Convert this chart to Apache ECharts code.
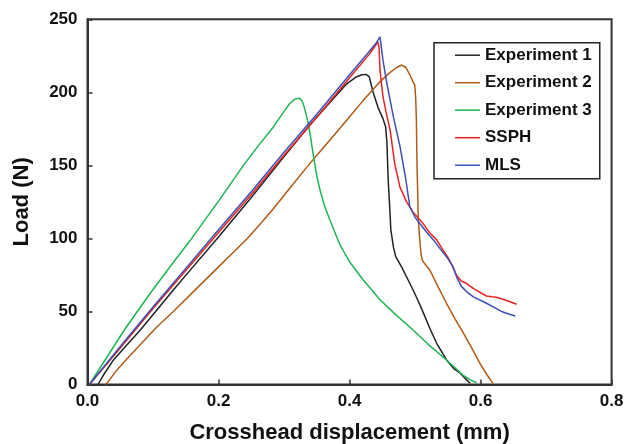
<!DOCTYPE html>
<html>
<head>
<meta charset="utf-8">
<script src="https://cdn.jsdelivr.net/npm/echarts@6/dist/echarts.min.js"></script>
<style>
html,body{margin:0;padding:0;background:#fff;}
#chart{width:624px;height:444px;}
</style>
</head>
<body>
<div id="chart"></div>
<script>
// Series names
const seriesNames = ['Experiment 1', 'Experiment 2', 'Experiment 3', 'SSPH', 'MLS'];

// Experiment 1 (black)
const exp1X = [0.016, 0.025, 0.04, 0.06, 0.08, 0.104, 0.131, 0.16, 0.198, 0.25, 0.30, 0.34, 0.37, 0.396, 0.411, 0.419, 0.425, 0.43, 0.436, 0.444, 0.451, 0.455, 0.457, 0.459, 0.461, 0.463, 0.467, 0.4705, 0.48, 0.49, 0.497, 0.505, 0.513, 0.523, 0.533, 0.548, 0.56, 0.569, 0.578, 0.584];
const exp1Y = [0, 7, 17, 27, 37, 50, 64.7, 80, 100, 128, 156, 178, 193, 206, 210.7, 212, 212.3, 210.7, 200, 189, 182, 176.5, 166, 140, 124, 106, 94, 87.5, 80, 71, 64.7, 57, 48.7, 38, 28.2, 16.8, 10.5, 7.7, 3.5, 0.8];

// Experiment 2 (brown)
const exp2X = [0.028, 0.035, 0.045, 0.059, 0.08, 0.105, 0.131, 0.164, 0.20, 0.225, 0.244, 0.265, 0.284, 0.31, 0.337, 0.355, 0.375, 0.396, 0.42, 0.446, 0.46, 0.472, 0.4796, 0.486, 0.492, 0.497, 0.4995, 0.501, 0.502, 0.503, 0.505, 0.507, 0.509, 0.511, 0.516, 0.5225, 0.535, 0.548, 0.561, 0.574, 0.587, 0.599, 0.61, 0.619];
const exp2Y = [0, 4, 10, 17, 27, 39, 50, 64.6, 80.5, 91.5, 100, 110.5, 120.5, 135, 150, 159.5, 170, 181, 194, 207, 213, 217, 218.7, 217, 212, 207, 205, 196, 181, 150, 112.6, 100, 90, 85, 82, 78.4, 67, 55.6, 45, 35, 24.5, 14.5, 6.5, 0.8];

// Experiment 3 (green)
const exp3X = [0.003, 0.01, 0.02, 0.04, 0.058, 0.076, 0.1, 0.13, 0.159, 0.2, 0.238, 0.26, 0.284, 0.30, 0.309, 0.317, 0.323, 0.327, 0.329, 0.332, 0.337, 0.341, 0.345, 0.35, 0.355, 0.362, 0.37, 0.385, 0.40, 0.42, 0.4465, 0.47, 0.497, 0.52, 0.548, 0.573, 0.585, 0.594];
const exp3Y = [0, 5, 12, 26, 38.5, 50, 65, 83, 100, 125.5, 150, 163, 176.5, 187, 192.5, 195.5, 196, 194.5, 192.5, 188, 178.8, 168, 156, 143, 133, 122, 112.6, 96, 84, 72, 58, 48, 37.3, 27.5, 16.8, 6.5, 3, 1.2];

// SSPH (red)
const ssphX = [0.003, 0.05, 0.10, 0.15, 0.20, 0.25, 0.30, 0.35, 0.40, 0.43, 0.438, 0.443, 0.445, 0.4465, 0.451, 0.456, 0.462, 0.469, 0.477, 0.487, 0.497, 0.5126, 0.522, 0.533, 0.542, 0.551, 0.557, 0.563, 0.57, 0.578, 0.59, 0.609, 0.617, 0.624, 0.64, 0.655];
const ssphY = [0, 25, 52, 78, 104, 130, 157, 183, 210, 226, 231, 234.6, 231, 215, 197, 186, 174, 151, 135, 125, 118, 110, 104, 99, 92.5, 86.4, 81, 75, 71, 69.3, 65.5, 60.6, 60, 59.7, 57.5, 54.9];

// MLS (blue)
const mlsX = [0.003, 0.05, 0.10, 0.15, 0.20, 0.25, 0.30, 0.35, 0.40, 0.43, 0.441, 0.4465, 0.449, 0.451, 0.457, 0.467, 0.477, 0.486, 0.492, 0.5, 0.5076, 0.518, 0.528, 0.538, 0.548, 0.558, 0.564, 0.571, 0.58, 0.589, 0.609, 0.62, 0.632, 0.643, 0.653];
const mlsY = [0, 26, 53, 79.5, 106, 132, 159, 185, 212, 228, 234, 238, 237, 222, 206, 183, 163, 140, 121.7, 114.5, 110, 104, 99, 93, 87.5, 80.6, 73, 67, 63, 60, 55.6, 53, 50, 48.3, 46.9];

// Axis ticks
const xTicks = [0.0, 0.2, 0.4, 0.6, 0.8];
const yTicks = [0, 50, 100, 150, 200, 250];

const colors = ['#222222', '#b05a14', '#1fb454', '#e8231f', '#3d4fb5'];

function zip(xs, ys) { return xs.map((x, i) => [x, ys[i]]); }
const allData = [zip(exp1X, exp1Y), zip(exp2X, exp2Y), zip(exp3X, exp3Y), zip(ssphX, ssphY), zip(mlsX, mlsY)];

const FONT = "'Liberation Sans', Arial, Helvetica, sans-serif";

const chart = echarts.init(document.getElementById('chart'), null, {renderer: 'canvas'});
chart.setOption({
  animation: false,
  backgroundColor: '#ffffff',
  grid: {
    left: 87.5, right: 12.4, top: 19.3, bottom: 59.5,
    containLabel: false,
    outerBoundsMode: 'none',
    show: true, borderColor: '#333', borderWidth: 2, backgroundColor: 'transparent'
  },
  legend: {
    orient: 'vertical',
    left: 434, top: 42.7,
    padding: [4, 8, 5, 21],
    itemGap: 10.5,
    itemWidth: 25, itemHeight: 1.5,
    itemTextGap: 1,
    icon: 'rect',
    borderColor: '#222', borderWidth: 1.5,
    backgroundColor: '#fff',
    textStyle: {fontFamily: FONT, fontWeight: 'bold', fontSize: 17, color: '#111'},
    data: seriesNames
  },
  xAxis: {
    type: 'value', min: xTicks[0], max: xTicks[xTicks.length - 1], interval: 0.2,
    name: 'Crosshead displacement (mm)', nameLocation: 'middle', nameGap: 37,
    nameTextStyle: {fontFamily: FONT, fontWeight: 'bold', fontSize: 22, color: '#111'},
    axisLine: {show: true, lineStyle: {color: '#333', width: 2}},
    axisTick: {show: true, inside: true, length: 5, lineStyle: {color: '#333', width: 1.5}},
    axisLabel: {fontFamily: FONT, fontWeight: 'bold', fontSize: 17, color: '#111', margin: 8,
      formatter: v => v.toFixed(1)},
    splitLine: {show: false}
  },
  yAxis: {
    type: 'value', min: yTicks[0], max: yTicks[yTicks.length - 1], interval: 50,
    name: 'Load (N)', nameLocation: 'middle', nameGap: 55, nameRotate: 90,
    nameTextStyle: {fontFamily: FONT, fontWeight: 'bold', fontSize: 22, color: '#111'},
    axisLine: {show: true, lineStyle: {color: '#333', width: 2}},
    axisTick: {show: true, inside: true, length: 5, lineStyle: {color: '#333', width: 1.5}},
    axisLabel: {fontFamily: FONT, fontWeight: 'bold', fontSize: 17, color: '#111', margin: 10},
    splitLine: {show: false}
  },
  series: seriesNames.map((name, i) => ({
    name: name,
    type: 'line',
    data: allData[i],
    showSymbol: false,
    symbol: 'none',
    smooth: false,
    color: colors[i],
    lineStyle: {color: colors[i], width: 1.5}
  }))
});
</script>
</body>
</html>
